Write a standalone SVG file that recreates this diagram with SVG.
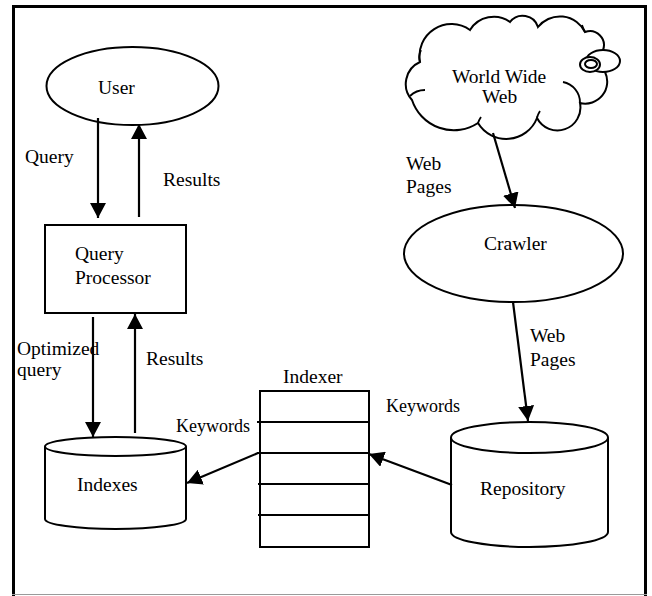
<svg xmlns="http://www.w3.org/2000/svg" width="652" height="596" viewBox="0 0 652 596">
<defs>
<marker id="ah" viewBox="0 0 15 16" refX="15" refY="8" markerWidth="15" markerHeight="16" markerUnits="userSpaceOnUse" orient="auto">
<path d="M0,0 L15,8 L0,16 Z" fill="#000"/>
</marker>
<style>
.t{font-family:"Liberation Serif","Times New Roman",serif;font-size:19.5px;fill:#000}
.k{font-family:"Liberation Serif","Times New Roman",serif;font-size:18px;fill:#000}
.s{fill:#fff;stroke:#000;stroke-width:2}
.ln{fill:none;stroke:#000;stroke-width:1.8}
.c{fill:none;stroke:#000;stroke-width:2.2;marker-end:url(#ah)}
</style>
</defs>
<rect width="652" height="596" fill="#fff"/>
<g id="frame">
<line x1="12" y1="6.5" x2="647" y2="6.5" stroke="#000" stroke-width="3"/>
<line x1="13.5" y1="5" x2="13.5" y2="596" stroke="#000" stroke-width="3"/>
<line x1="645.5" y1="5" x2="645.5" y2="596" stroke="#000" stroke-width="3"/>
<line x1="12" y1="594.5" x2="647" y2="594.5" stroke="#9a9a9a" stroke-width="1"/>
</g>
<g id="user">
<ellipse class="s" cx="132.5" cy="86" rx="86" ry="39"/>
<text class="t" x="98" y="94">User</text>
</g>
<g id="query-processor">
<rect class="s" x="45" y="225" width="141" height="88"/>
<text class="t" x="75" y="260">Query</text>
<text class="t" x="75" y="284">Processor</text>
</g>
<g id="indexes">
<path class="s" d="M45,446.5 L45,519 A70.5,10 0 0 0 186,519 L186,446.5"/>
<ellipse class="s" cx="115.5" cy="446.5" rx="70.5" ry="9.5"/>
<text class="t" x="77" y="491">Indexes</text>
</g>
<g id="indexer">
<rect class="s" x="260" y="391" width="109" height="156"/>
<line class="ln" x1="257" y1="422" x2="369" y2="422"/>
<line class="ln" x1="257" y1="453" x2="369" y2="453"/>
<line class="ln" x1="258" y1="484" x2="369" y2="484"/>
<line class="ln" x1="258" y1="515" x2="369" y2="515"/>
<text class="t" x="283" y="383">Indexer</text>
</g>
<g id="repository">
<path class="s" d="M451,437.5 L451,532 A78.5,15 0 0 0 608,532 L608,437.5"/>
<ellipse class="s" cx="529.5" cy="437.5" rx="78.5" ry="15.5"/>
<text class="t" x="480" y="495">Repository</text>
</g>
<g id="crawler">
<ellipse class="s" cx="513.5" cy="253.5" rx="109.5" ry="48.5"/>
<text class="t" x="484" y="250">Crawler</text>
</g>
<g id="world-wide-web">
<path class="s" d="M412,100 A24,24 0 0 1 420,62 A32,32 0 0 1 470,30 A28,28 0 0 1 510,22 A16,16 0 0 1 538,27 A28,28 0 0 1 585,32 A14,14 0 0 1 603,50 A12,12 0 0 1 605,72 A22,22 0 0 1 580,103 A23,23 0 0 1 537,118 A33,33 0 0 1 478,123 A44,44 0 0 1 412,100 Z"/>
<path class="ln" d="M563,82 A21,21 0 0 1 580,103 M410,96 Q416,90 425,90 M478,123 Q479,120 481,117 M585,32 Q583,28 582,25 M420,62 Q418,56 421,50 M537,118 Q538,114 540,111"/>
<ellipse class="s" cx="603" cy="61" rx="17" ry="11"/>
<ellipse class="s" cx="590" cy="64.5" rx="10" ry="7.5"/>
<ellipse class="s" cx="591" cy="64" rx="6" ry="4"/>
<text class="t" x="452" y="83">World Wide</text>
<text class="t" x="482" y="103">Web</text>
</g>
<g id="connectors">
<line class="c" x1="98" y1="118" x2="98" y2="218"/>
<line class="c" x1="139" y1="217" x2="139" y2="124"/>
<line class="c" x1="93" y1="317" x2="93" y2="437"/>
<line class="c" x1="135" y1="433" x2="135" y2="314"/>
<line class="c" x1="258" y1="453" x2="187" y2="483"/>
<line class="c" x1="452" y1="485" x2="369" y2="454"/>
<line class="c" x1="493" y1="133" x2="515" y2="208"/>
<line class="c" x1="513" y1="302" x2="528" y2="421"/>
</g>
<g id="labels">
<text class="t" x="25" y="163">Query</text>
<text class="t" x="163" y="186">Results</text>
<text class="t" x="17" y="355">Optimized</text>
<text class="t" x="17" y="376">query</text>
<text class="t" x="146" y="365">Results</text>
<text class="k" x="176" y="432">Keywords</text>
<text class="k" x="386" y="412">Keywords</text>
<text class="t" x="406" y="170">Web</text>
<text class="t" x="406" y="193">Pages</text>
<text class="t" x="530" y="342">Web</text>
<text class="t" x="530" y="366">Pages</text>
</g>
</svg>
